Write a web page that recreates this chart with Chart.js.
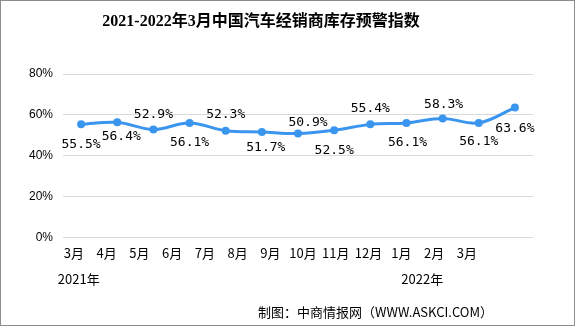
<!DOCTYPE html>
<html>
<head>
<meta charset="utf-8">
<script src="https://cdn.jsdelivr.net/npm/chart.js@4"></script>
<style>
  html, body { margin: 0; padding: 0; background: #fff; }
  #wrap { width: 575px; height: 326px; box-sizing: border-box; border: 1px solid #8c8c8c; }
</style>
</head>
<body>
<div id="wrap"><canvas id="myChart"></canvas></div>
<script>
const titleText = '2021-2022年3月中国汽车经销商库存预警指数';
const sourceText = '制图：中商情报网（WWW.ASKCI.COM）';
const months = ['3月', '4月', '5月', '6月', '7月', '8月', '9月', '10月', '11月', '12月', '1月', '2月', '3月'];
const years = ['2021年', '2022年'];
const values = [55.5, 56.4, 52.9, 56.1, 52.3, 51.7, 50.9, 52.5, 55.4, 56.1, 58.3, 56.1, 63.6];
const yTicks = [0, 20, 40, 60, 80];

// label offsets relative to each point (dx, dy), like the excel placement
const labelOffsets = [[0, 20], [4, 14], [0, -15], [0, 20], [0, -16], [4, 16], [10, -11],
  [0, 20], [0, -16], [1, 20], [1, -14], [0, 19], [0, 21]];

const lineColor = '#3a95ef';

const textPlugin = {
  id: 'texts',
  afterDatasetsDraw(chart) {
    const ctx = chart.ctx;
    const meta = chart.getDatasetMeta(0);
    ctx.save();
    ctx.fillStyle = '#000';
    ctx.font = '13px "DejaVu Sans Mono", "Noto Sans CJK SC", monospace';
    ctx.textAlign = 'center';
    ctx.textBaseline = 'middle';
    meta.data.forEach((pt, i) => {
      const off = labelOffsets[i];
      ctx.fillText(values[i].toFixed(1) + '%', pt.x + off[0], pt.y + off[1]);
    });
    ctx.restore();
  },
  afterDraw(chart) {
    const ctx = chart.ctx;
    ctx.save();
    ctx.fillStyle = '#000';
    ctx.textAlign = 'center';
    ctx.textBaseline = 'middle';
    ctx.font = 'bold 16px "Liberation Serif", "Noto Sans CJK SC", serif';
    ctx.fillText(titleText, 260, 21);
    ctx.textAlign = 'right';
    ctx.font = '13px "Noto Sans CJK SC", sans-serif';
    ctx.fillText(sourceText, 492, 311);
    ctx.restore();
  }
};

const ctx = document.getElementById('myChart').getContext('2d');

new Chart(ctx, {
  type: 'line',
  data: {
    labels: months,
    datasets: [{
      data: values,
      borderColor: lineColor,
      backgroundColor: lineColor,
      borderWidth: 3,
      tension: 0.35,
      pointRadius: 4,
      pointBackgroundColor: lineColor,
      pointBorderWidth: 0,
      fill: false
    }]
  },
  options: {
    responsive: true,
    maintainAspectRatio: false,
    animation: false,
    layout: {
      padding: { top: 73, left: 18, right: 41, bottom: 34 }
    },
    plugins: {
      legend: { display: false },
      tooltip: { enabled: false },
      title: { display: false }
    },
    scales: {
      x: {
        type: 'category',
        offset: true,
        display: false
      },
      x2: {
        type: 'linear',
        position: 'bottom',
        min: -0.33,
        max: 14.02,
        grid: { display: false, drawTicks: false },
        border: { display: false },
        afterBuildTicks: axis => { axis.ticks = months.map((m, i) => ({ value: i })); },
        ticks: {
          autoSkip: false,
          maxRotation: 0,
          padding: 7,
          color: '#000',
          font: { size: 13, family: '"Noto Sans CJK SC", sans-serif' },
          callback: (v, i) => months[i]
        }
      },
      x3: {
        type: 'linear',
        position: 'bottom',
        min: -0.33,
        max: 14.02,
        grid: { display: false, drawTicks: false },
        border: { display: false },
        afterBuildTicks: axis => { axis.ticks = [{ value: 0.15 }, { value: 10.64 }]; },
        ticks: {
          autoSkip: false,
          maxRotation: 0,
          padding: 4,
          color: '#000',
          font: { size: 13, family: '"Noto Sans CJK SC", sans-serif' },
          callback: (v, i) => years[i]
        }
      },
      y: {
        min: 0,
        max: 80,
        afterBuildTicks: axis => { axis.ticks = yTicks.map(v => ({ value: v })); },
        border: { display: false },
        grid: { color: '#d9d9d9', lineWidth: 1, drawTicks: false },
        ticks: {
          padding: 10,
          color: '#000',
          font: { size: 12, family: '"Liberation Sans", sans-serif' },
          callback: v => v + '%'
        }
      }
    }
  },
  plugins: [textPlugin]
});
</script>
</body>
</html>
